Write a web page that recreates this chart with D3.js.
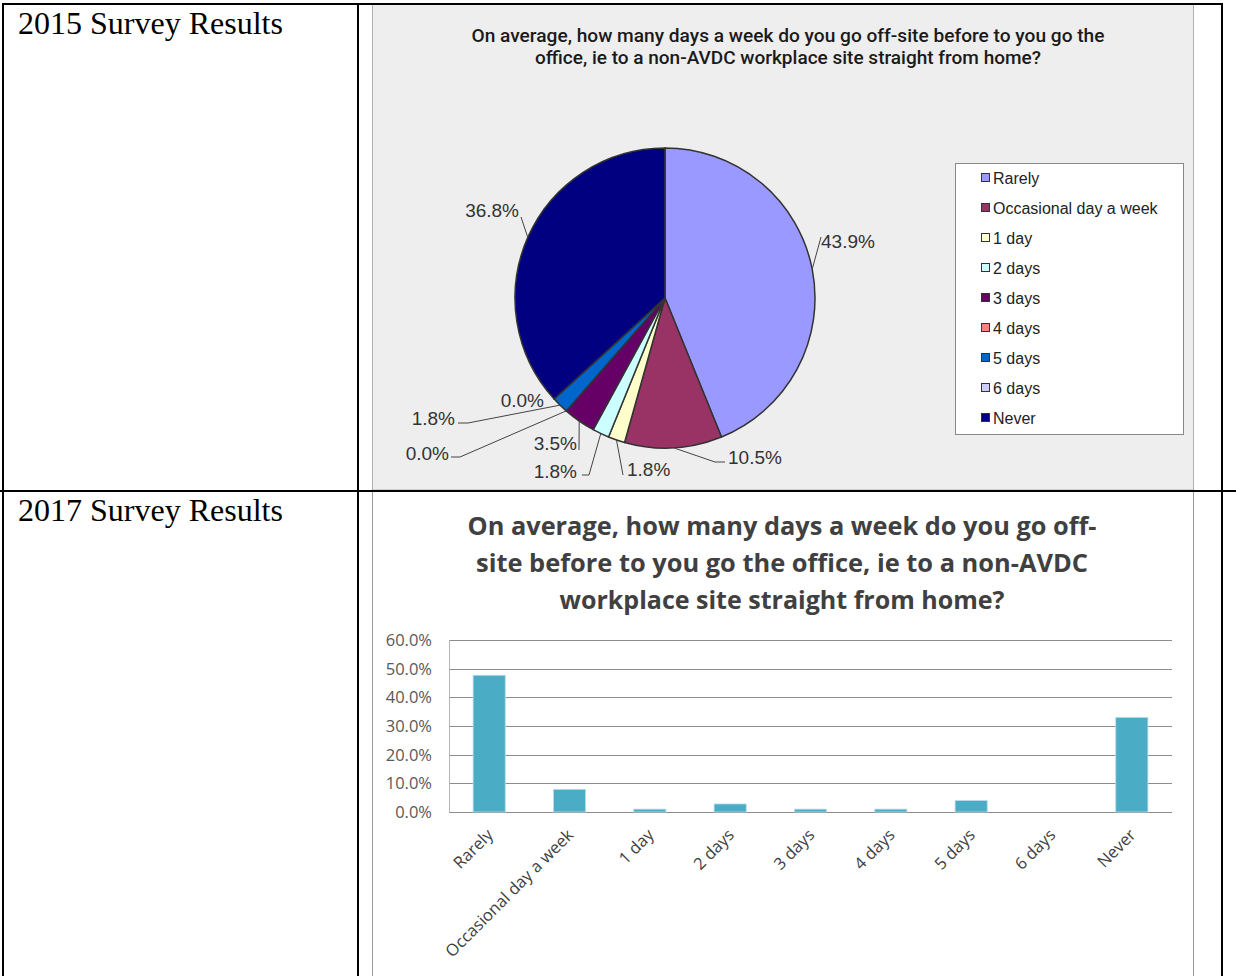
<!DOCTYPE html>
<html lang="en">
<meta charset="utf-8"/>
<head>
<script src="https://d3js.org/d3.v7.min.js"></script>
</head>
<style>
  body { margin: 0; background: #fff; }
  .rowhead { font-family: "Liberation Serif", "Times New Roman", serif; font-size: 32px; fill: #000; }
  .pielabel { font-family: "Liberation Sans", Arial, sans-serif; font-size: 19px; fill: #333; }
  .legend text { font-family: "Liberation Sans", Arial, sans-serif; font-size: 16px; fill: #222; }
  .ytick { font-family: "Open Sans", sans-serif; font-size: 16.5px; fill: #595959; }
  .xtick { font-family: "Open Sans", sans-serif; font-size: 16.5px; fill: #404040; }
</style>
<body>
<script>
// 2015 pie data
var pieCats = ["Rarely", "Occasional day a week", "1 day", "2 days", "3 days", "4 days", "5 days", "6 days", "Never"];
var pieVals = [43.9, 10.5, 1.8, 1.8, 3.5, 0.0, 1.8, 0.0, 36.8];
var pieColors = ["#9999ff", "#993366", "#ffffcc", "#ccffff", "#660066", "#ff8080", "#0066cc", "#ccccff", "#000080"];
var pieTitle = ["On average, how many days a week do you go off-site before to you go the",
                "office, ie to a non-AVDC workplace site straight from home?"];

// 2017 bar data
var barCats = ["Rarely", "Occasional day a week", "1 day", "2 days", "3 days", "4 days", "5 days", "6 days", "Never"];
var barVals = [47.7, 7.9, 1.0, 2.8, 1.0, 1.0, 4.0, 0.0, 33.0];
var yTicks = [0, 10, 20, 30, 40, 50, 60];
var barTitle = ["On average, how many days a week do you go off-",
                "site before to you go the office, ie to a non-AVDC",
                "workplace site straight from home?"];

var W = 1236, H = 976;
var svg = d3.select("body").append("svg").attr("width", W).attr("height", H);

// ---- panels ----
svg.append("rect").attr("x", 372.5).attr("y", 4).attr("width", 821).attr("height", 486)
   .attr("fill", "#eeeeee").attr("stroke", "#b0b0b0");
svg.append("line").attr("x1", 372.5).attr("x2", 372.5).attr("y1", 491).attr("y2", H).attr("stroke", "#999");
svg.append("line").attr("x1", 1193.5).attr("x2", 1193.5).attr("y1", 491).attr("y2", H).attr("stroke", "#999");

// ---- table lines ----
var tbl = svg.append("g").attr("stroke", "#000").attr("stroke-width", 2);
tbl.append("line").attr("x1", 3).attr("x2", 1223).attr("y1", 4).attr("y2", 4);
tbl.append("line").attr("x1", 0).attr("x2", W).attr("y1", 491).attr("y2", 491);
tbl.append("line").attr("x1", 3).attr("x2", 3).attr("y1", 3).attr("y2", H);
tbl.append("line").attr("x1", 358).attr("x2", 358).attr("y1", 3).attr("y2", H);
tbl.append("line").attr("x1", 1222).attr("x2", 1222).attr("y1", 3).attr("y2", H);

svg.append("text").attr("class", "rowhead").attr("x", 18).attr("y", 34).text("2015 Survey Results");
svg.append("text").attr("class", "rowhead").attr("x", 18).attr("y", 521).text("2017 Survey Results");

// ---- pie ----
var cx = 665, cy = 298, r = 150;
svg.selectAll(".ptitle").data(pieTitle).enter().append("text")
   .attr("x", 788).attr("y", function(d, i) { return 42 + i * 22; })
   .attr("text-anchor", "middle")
   .attr("textLength", function(d, i) { return i == 0 ? 633 : 506; })
   .attr("lengthAdjust", "spacingAndGlyphs")
   .style("font-family", "Roboto, sans-serif").style("font-weight", 500)
   .style("font-size", "17.5px").style("fill", "#1a1a1a")
   .text(function(d) { return d; });

var pie = d3.pie().sort(null).value(function(d) { return d; });
var arcs = pie(pieVals);
var arc = d3.arc().innerRadius(0).outerRadius(r);
var pg = svg.append("g").attr("transform", "translate(" + cx + "," + cy + ")");
pg.selectAll("path").data(arcs).enter().append("path")
  .attr("d", arc)
  .attr("fill", function(d, i) { return pieColors[i]; })
  .attr("stroke", "#333").attr("stroke-width", 1.5).attr("stroke-linejoin", "round");

// label layout: text anchor point, anchor side, leader path points (relative to centre)
var labelLayout = [
  {tx: 156, ty: -50, anchor: "start", pts: [[156, -61]]},
  {tx: 63, ty: 166, anchor: "start", pts: [[50, 164], [60, 164]]},
  {tx: -38, ty: 178, anchor: "start", pts: [[-42, 177]]},
  {tx: -88, ty: 180, anchor: "end", pts: [[-76, 177], [-83, 177]]},
  {tx: -88, ty: 152, anchor: "end", pts: [[-86, 152]]},
  {tx: -216, ty: 162, anchor: "end", pts: [[-205, 159], [-214, 159]]},
  {tx: -210, ty: 127, anchor: "end", pts: [[-197, 125], [-207, 125]]},
  {tx: -121, ty: 109, anchor: "end", pts: null},
  {tx: -146, ty: -81, anchor: "end", pts: [[-144, -81]]}
];
function edgePoint(d) {
  var a = (d.startAngle + d.endAngle) / 2;
  return [Math.sin(a) * r, -Math.cos(a) * r];
}
arcs.forEach(function(d, i) {
  var L = labelLayout[i];
  if (L.pts) {
    var p = [edgePoint(d)].concat(L.pts);
    pg.append("path").attr("d", d3.line()(p)).attr("fill", "none")
      .attr("stroke", "#444").attr("stroke-width", 1);
  }
  pg.append("text").attr("class", "pielabel")
    .attr("x", L.tx).attr("y", L.ty).attr("text-anchor", L.anchor)
    .text(d.data.toFixed(1) + "%");
});

// legend
var lg = svg.append("g").attr("class", "legend");
lg.append("rect").attr("x", 955.5).attr("y", 163.5).attr("width", 228).attr("height", 271)
  .attr("fill", "#fff").attr("stroke", "#888");
var li = lg.selectAll(".li").data(pieCats).enter().append("g")
  .attr("transform", function(d, i) { return "translate(981," + (178 + i * 30) + ")"; });
li.append("rect").attr("x", 0.5).attr("y", -4.5).attr("width", 8).attr("height", 8)
  .attr("fill", function(d, i) { return pieColors[i]; }).attr("stroke", "#333");
li.append("text").attr("x", 12).attr("y", 5.5).text(function(d) { return d; });

// ---- bar chart ----
svg.selectAll(".btitle").data(barTitle).enter().append("text")
   .attr("x", 782).attr("y", function(d, i) { return 535 + i * 37; })
   .attr("text-anchor", "middle")
   .attr("textLength", function(d, i) { return [629, 612, 445][i]; })
   .attr("lengthAdjust", "spacingAndGlyphs")
   .style("font-family", "'Open Sans', sans-serif").style("font-weight", 700)
   .style("font-size", "25px").style("fill", "#404040")
   .text(function(d) { return d; });

var x = d3.scaleBand().domain(barCats).range([449, 1172]).paddingInner(0.6).paddingOuter(0.3);
var y = d3.scaleLinear().domain([0, 60]).range([812, 640]);

var grid = svg.append("g");
grid.selectAll("line").data(yTicks).enter().append("line")
  .attr("x1", 449).attr("x2", 1172)
  .attr("y1", function(d) { return Math.round(y(d)) + 0.5; })
  .attr("y2", function(d) { return Math.round(y(d)) + 0.5; })
  .attr("stroke", "#8c8c8c");
svg.append("line").attr("x1", 449.5).attr("x2", 449.5).attr("y1", 640).attr("y2", 812.5).attr("stroke", "#b5b5b5");

svg.selectAll(".bar").data(barVals).enter().append("rect")
  .attr("x", function(d, i) { return x(barCats[i]); })
  .attr("width", x.bandwidth())
  .attr("y", function(d) { return y(d); })
  .attr("height", function(d) { return y(0) - y(d); })
  .attr("fill", "#4bacc6").attr("stroke", "#b7dde8").attr("stroke-width", 0.8);

svg.selectAll(".ytick").data(yTicks).enter().append("text").attr("class", "ytick")
  .attr("x", 432).attr("y", function(d) { return y(d) + 6; })
  .attr("text-anchor", "end")
  .text(function(d) { return d.toFixed(1) + "%"; });

svg.selectAll(".xtick").data(barCats).enter().append("text").attr("class", "xtick")
  .attr("text-anchor", "end")
  .attr("transform", function(d) {
    return "translate(" + (x(d) + x.bandwidth() / 2 + 5) + ",836) rotate(-45)";
  })
  .text(function(d) { return d; });
</script>
</body>
</html>
